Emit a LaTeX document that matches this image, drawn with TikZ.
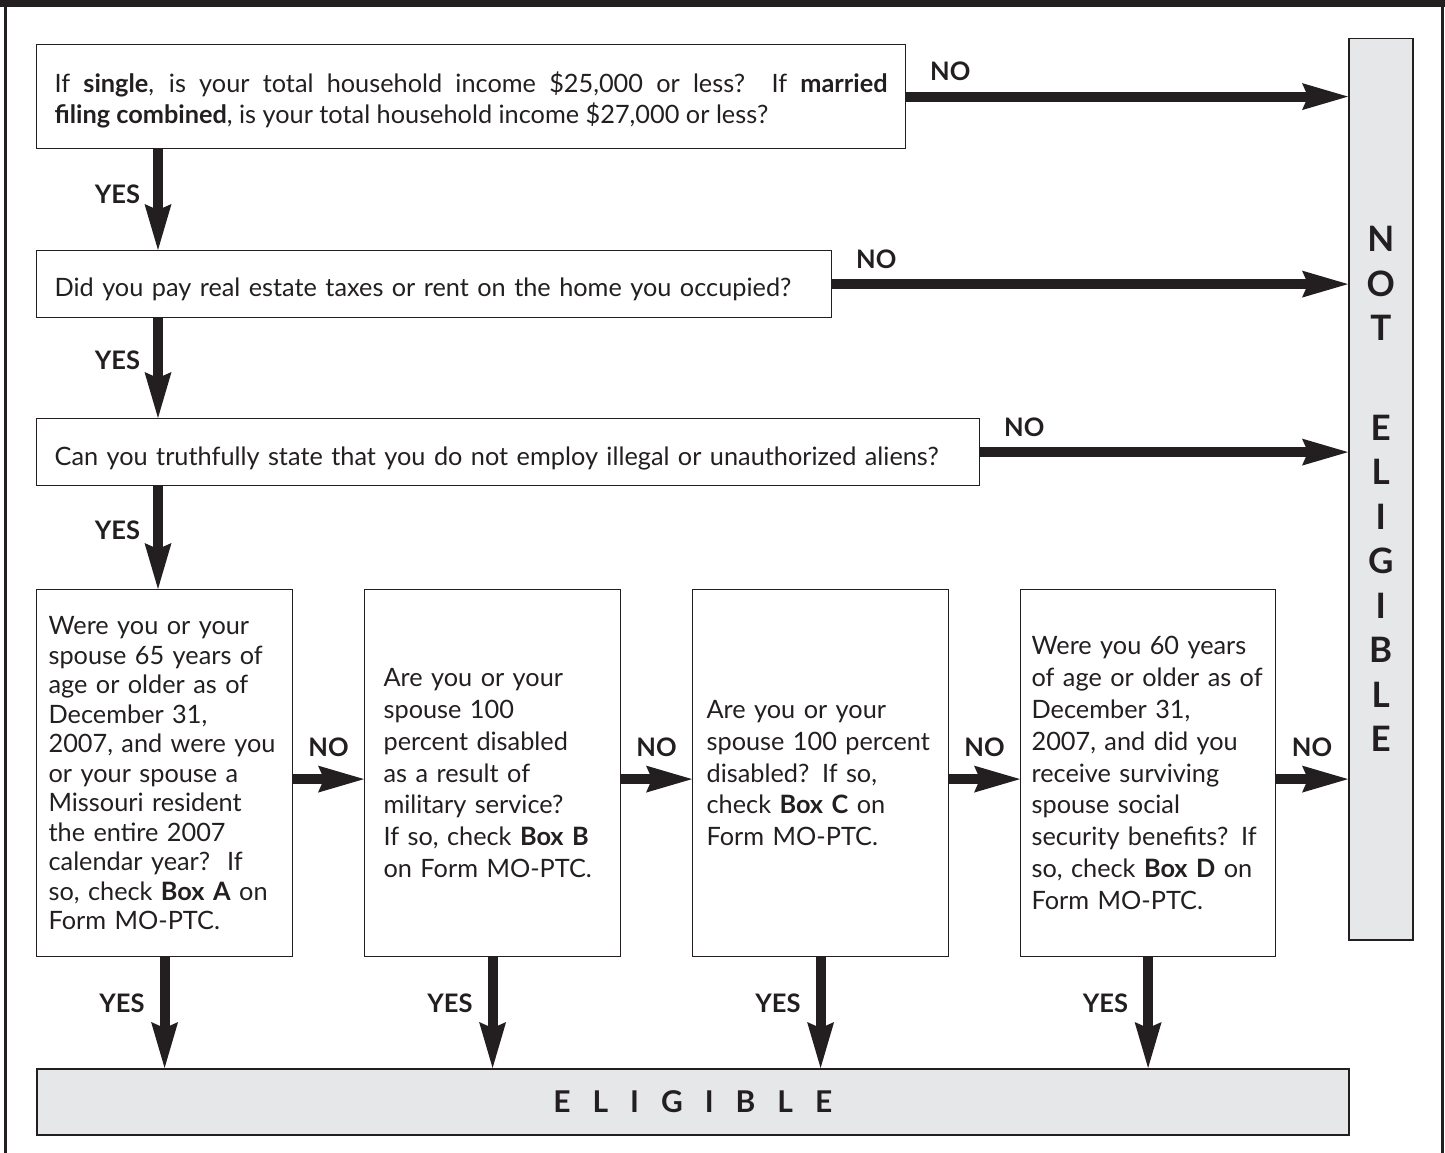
\documentclass[tikz,border=0pt]{standalone}
\usepackage{fontspec}
\setmainfont{Lato}
\usetikzlibrary{arrows.meta}
\definecolor{ink}{HTML}{231F20}
\definecolor{panel}{HTML}{E6E7E8}
\newcommand{\lsep}{\hspace{22pt}}

\begin{document}
\begin{tikzpicture}[x=1pt,y=-1pt,
    qbox/.style={draw=ink,line width=1.2pt,text=ink,anchor=north west,inner xsep=18pt,inner ysep=0pt,font=\fontsize{25.3}{31}\selectfont},
    rowbox/.style={draw=ink,line width=1.2pt,text=ink,anchor=north west,align=left,text width=232pt,inner xsep=12pt,inner ysep=0pt,minimum height=367pt,font=\fontsize{25.3}{31.8}\selectfont},
    greybox/.style={draw=ink,line width=1.5pt,fill=panel,text=ink,anchor=north west,inner sep=0pt},
    lbl/.style={text=ink,inner sep=0pt,font=\bfseries\fontsize{25.5}{26}\selectfont},
    arr/.style={ink,line width=10pt,-{Stealth[length=46pt,width=27pt,inset=6pt,line width=0pt]}}]
        \useasboundingbox (0,0) rectangle (1445,1153);
        % frame
        \fill[ink] (0,0) rectangle (1445,7.5);
        \draw[ink,line width=2.5pt] (5.5,7) -- (5.5,1153);
        \draw[ink,line width=3pt] (1442.5,7) -- (1442.5,1153);

        % questions
        \node[qbox,align=justify,text width=833pt,minimum height=104pt,text height=27.5pt] (q1) at (36,44)
            {If \textbf{single}, is your total household income \$25,000 or less?\ \ If \textbf{married}\linebreak
             \textbf{filing combined}, is your total household income \$27,000 or less?};
        \node[qbox,text width=759pt,minimum height=67pt,text height=30pt,text depth=5.5pt] (q2) at (36,250)
            {Did you pay real estate taxes or rent on the home you occupied?};
        \node[qbox,text width=907pt,minimum height=67pt,text height=32pt,text depth=5.5pt] (q3) at (36,418)
            {Can you truthfully state that you do not employ illegal or unauthorized aliens?};

        % boxes A to D
        \node[rowbox,font=\fontsize{25.3}{29.5}\selectfont] (qa) at (36,589)
            {Were you or your\\ spouse 65 years of\\ age or older as of\\ December 31,\\ 2007, and were you\\ or your spouse a\\ Missouri resident\\ the entire 2007\\ calendar year?\ \ If\\ so, check \textbf{Box A} on\\ Form MO-PTC.};
        \node[rowbox,inner xsep=19pt,text width=218pt] (qb) at (364,589)
            {Are you or your\\ spouse 100\\ percent disabled\\ as a result of\\ military service?\\ If so, check \textbf{Box B}\\ on Form MO-PTC.};
        \node[rowbox,inner xsep=14pt,text width=228pt] (qc) at (692,589)
            {Are you or your\\ spouse 100 percent\\ disabled? If so,\\ check \textbf{Box C} on\\ Form MO-PTC.};
        \node[rowbox,inner xsep=11pt,text width=233pt] (qd) at (1020,589)
            {Were you 60 years\\ of age or older as of\\ December 31,\\ 2007, and did you\\ receive surviving\\ spouse social\\ security benefits? If\\ so, check \textbf{Box D} on\\ Form MO-PTC.};

        % results
        \node[greybox,minimum width=64pt,minimum height=901pt,align=center,font=\bfseries\fontsize{35}{44.5}\selectfont] (ne) at (1348,38)
            {N\\O\\T\\[55pt]E\\L\\I\\G\\I\\B\\L\\E};
        \node[greybox,minimum width=1312pt,minimum height=66pt,font=\bfseries\fontsize{30}{30}\selectfont] (elig) at (36,1068)
            {E\lsep L\lsep I\lsep G\lsep I\lsep B\lsep L\lsep E};

        \coordinate (col) at (158,0);
        %% arrows
        \draw[arr] (q1.east) -- node[lbl,at start,anchor=base west,xshift=19pt,yshift=16pt] {NO} (q1.east -| ne.west);
        \draw[arr] (q2.east) -- node[lbl,at start,anchor=base west,xshift=19pt,yshift=16pt] {NO} (q2.east -| ne.west);
        \draw[arr] (q3.east) -- node[lbl,at start,anchor=base west,xshift=19pt,yshift=16pt] {NO} (q3.east -| ne.west);
        \draw[arr] (q1.south -| col) -- node[lbl,left=13pt,pos=0.45] {YES} (q2.north -| col);
        \draw[arr] (q2.south -| col) -- node[lbl,left=13pt,pos=0.42] {YES} (q3.north -| col);
        \draw[arr] (q3.south -| col) -- node[lbl,left=13pt,pos=0.43] {YES} (qa.north -| col);

        \draw[arr] ([yshift=-6pt]qa.east) -- node[lbl,above=17pt] {NO} ([yshift=-6pt]qb.west);
        \draw[arr] ([yshift=-6pt]qb.east) -- node[lbl,above=17pt] {NO} ([yshift=-6pt]qc.west);
        \draw[arr] ([yshift=-6pt]qc.east) -- node[lbl,above=17pt] {NO} ([yshift=-6pt]qd.west);
        \draw[arr] ([yshift=-6pt]qd.east) -- node[lbl,above=17pt] {NO} ([yshift=-6pt]qd.east -| ne.west);

        \draw[arr] (qa.south) -- node[lbl,left=15pt,pos=0.42] {YES} (qa.south |- elig.north);
        \draw[arr] (qb.south) -- node[lbl,left=15pt,pos=0.42] {YES} (qb.south |- elig.north);
        \draw[arr] (qc.south) -- node[lbl,left=15pt,pos=0.42] {YES} (qc.south |- elig.north);
        \draw[arr] (qd.south) -- node[lbl,left=15pt,pos=0.42] {YES} (qd.south |- elig.north);
\end{tikzpicture}
\end{document}
